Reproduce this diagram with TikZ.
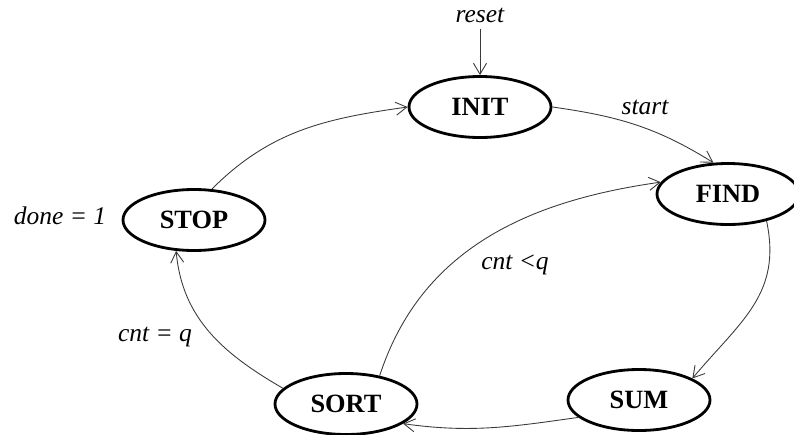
\documentclass[tikz,border=0pt]{standalone}
\usepackage{fontspec}
\setmainfont{Liberation Serif}
\usepackage{tikz}
\usetikzlibrary{shapes.geometric,arrows.meta}
\definecolor{edgegray}{HTML}{3a3a3a}

\begin{document}
\begin{tikzpicture}[
  stateNode/.style={ellipse, draw, line width=1.6pt, minimum width=2.84cm, minimum height=1.22cm,
    inner sep=0pt, font=\fontsize{15}{18}\selectfont\bfseries},
  condLabel/.style={font=\fontsize{14.5}{17}\selectfont\itshape},
  trans/.style={draw=edgegray, line width=0.5pt, -{Straight Barb[length=2.2mm,width=2.6mm]}}
]
  \useasboundingbox (0,0) rectangle (15.88,8.68);

  % States
  \node[stateNode] (stInit) at (9.6, 6.54) {INIT};
  \node[stateNode] (stFind) at (14.56, 4.8) {FIND};
  \node[stateNode] (stStop) at (3.88, 4.28) {STOP};
  \node[stateNode] (stSort) at (6.92, 0.6) {SORT};
  \node[stateNode] (stSum)  at (12.78, 0.68) {SUM};

  % Labels
  \node[condLabel] (lblReset) at (9.6, 8.38) {reset};
  \node[condLabel] (lblStart) at (12.9, 6.54) {start};
  \node[condLabel] (lblDone)  at (1.2, 4.36) {done = 1};
  \node[condLabel] (lblLess)  at (10.3, 3.38) {cnt <q};
  \node[condLabel] (lblEqual) at (3.1, 1.94) {cnt = q};

  % Transitions
  \draw[trans] (lblReset.south) -- (stInit.north);
  \draw[trans] (stInit.east) to[out=-8, in=148] (stFind.115);
  \draw[trans] (stFind.-35) to[out=-78, in=50, looseness=1.1] (stSum.22);
  \draw[trans] (stSum.196) to[out=188, in=-8] (stSort.-19);
  \draw[trans] (stSort.40) to[out=72, in=188] (stFind.170);
  \draw[trans] (stSort.166) to[out=150, in=-85] (stStop.240);
  \draw[trans] (stStop.60) to[out=45, in=188] (stInit.west);
\end{tikzpicture}
\end{document}
